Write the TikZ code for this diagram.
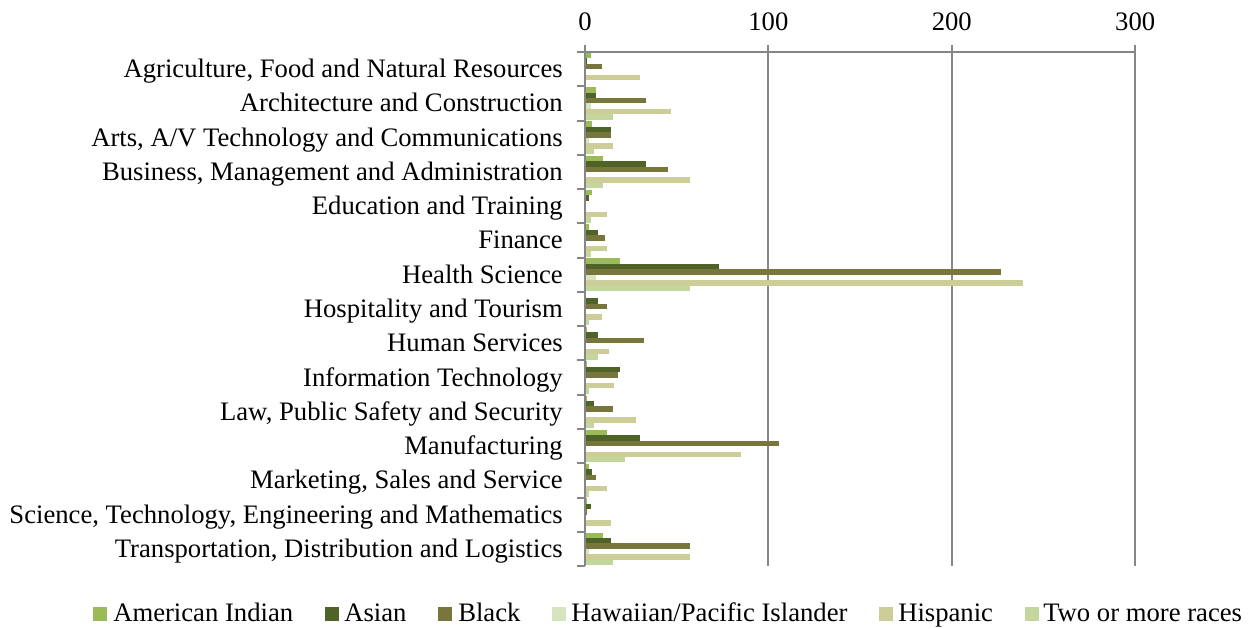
\documentclass[tikz,border=0pt]{standalone}
\usepackage{fontspec}
\setmainfont{Liberation Serif}
\definecolor{cS0}{HTML}{9BBB59}
\definecolor{cS1}{HTML}{4F6228}
\definecolor{cS2}{HTML}{77763C}
\definecolor{cS3}{HTML}{D7E4BD}
\definecolor{cS4}{HTML}{CDCD98}
\definecolor{cS5}{HTML}{C3D69B}
\definecolor{axgray}{HTML}{868686}
\begin{document}
\begin{tikzpicture}[x=0.75pt,y=-0.75pt,
  font=\fontsize{20}{23}\selectfont,
  gridln/.style={draw=axgray,line width=1.5pt},
  axisln/.style={draw=axgray,line width=1.5pt},
  catlab/.style={anchor=base east,inner sep=0pt},
  ticklab/.style={anchor=base,inner sep=0pt},
  legsq/.style={minimum size=10.5pt,inner sep=0pt,draw=none},
  legtxt/.style={anchor=base west,inner sep=0pt}]
\useasboundingbox (0,0) rectangle (1248,628);
% gridlines
\foreach \v in {100,200,300}
  \draw[gridln] ({585+\v*1.834},45) -- ({585+\v*1.834},566);
% bars
\foreach \row [count=\k from 0] in {
  {3,1,9,0,30,0},
  {6,6,33,3,47,15},
  {4,14,14,2,15,5},
  {10,33,45,0,57,10},
  {4,2,0,0,12,3},
  {2,7,11,0,12,3},
  {19,73,227,6,239,57},
  {0,7,12,0,9,2},
  {1,7,32,0,13,7},
  {1,19,18,0,16,2},
  {1,5,15,0,28,5},
  {12,30,106,0,85,22},
  {2,4,6,0,12,2},
  {1,3,1,0,14,0},
  {10,14,57,2,57,15}} {
  \foreach \v [count=\i from 0] in \row {
    \fill[cS\i] (585,{52+34.27*\k+0.8+5.45*\i}) rectangle ({585+\v*1.834},{52+34.27*\k+0.8+5.45*(\i+1)});
  }
}
% axes
\draw[axisln] (585,45) -- (585,566);
\draw[axisln] (585,52) -- (1136,52);
\foreach \v in {0,100,200,300}
  \draw[axisln] ({585+\v*1.834},45) -- ({585+\v*1.834},52);
\foreach \k in {0,...,15}
  \draw[axisln] (577,{52+34.27*\k}) -- (585,{52+34.27*\k});
% tick labels
\foreach \v in {0,100,200,300}
  \node[ticklab] (t\v) at ({585+\v*1.834},30.5) {\v};
% category labels
\foreach \lab [count=\k from 0] in {
  {Agriculture, Food and Natural Resources},
  {Architecture and Construction},
  {Arts, A/V Technology and Communications},
  {Business, Management and Administration},
  {Education and Training},
  {Finance},
  {Health Science},
  {Hospitality and Tourism},
  {Human Services},
  {Information Technology},
  {Law, Public Safety and Security},
  {Manufacturing},
  {Marketing, Sales and Service},
  {Science, Technology, Engineering and Mathematics},
  {Transportation, Distribution and Logistics}}
  \node[catlab] (c\k) at (563,{52+34.27*\k+17.13+8.5}) {\lab};
% legend
\node[legsq,fill=cS0] (q0) at (100,614) {};
\node[legtxt] (l0) at (113,621.5) {American Indian};
\node[legsq,fill=cS1] (q1) at (332,614) {};
\node[legtxt] (l1) at (344,621.5) {Asian};
\node[legsq,fill=cS2] (q2) at (445,614) {};
\node[legtxt] (l2) at (458,621.5) {Black};
\node[legsq,fill=cS3] (q3) at (559,614) {};
\node[legtxt] (l3) at (571,621.5) {Hawaiian/Pacific Islander};
\node[legsq,fill=cS4] (q4) at (886,614) {};
\node[legtxt] (l4) at (898,621.5) {Hispanic};
\node[legsq,fill=cS5] (q5) at (1032,614) {};
\node[legtxt] (l5) at (1043,621.5) {Two or more races};
\end{tikzpicture}
\end{document}
